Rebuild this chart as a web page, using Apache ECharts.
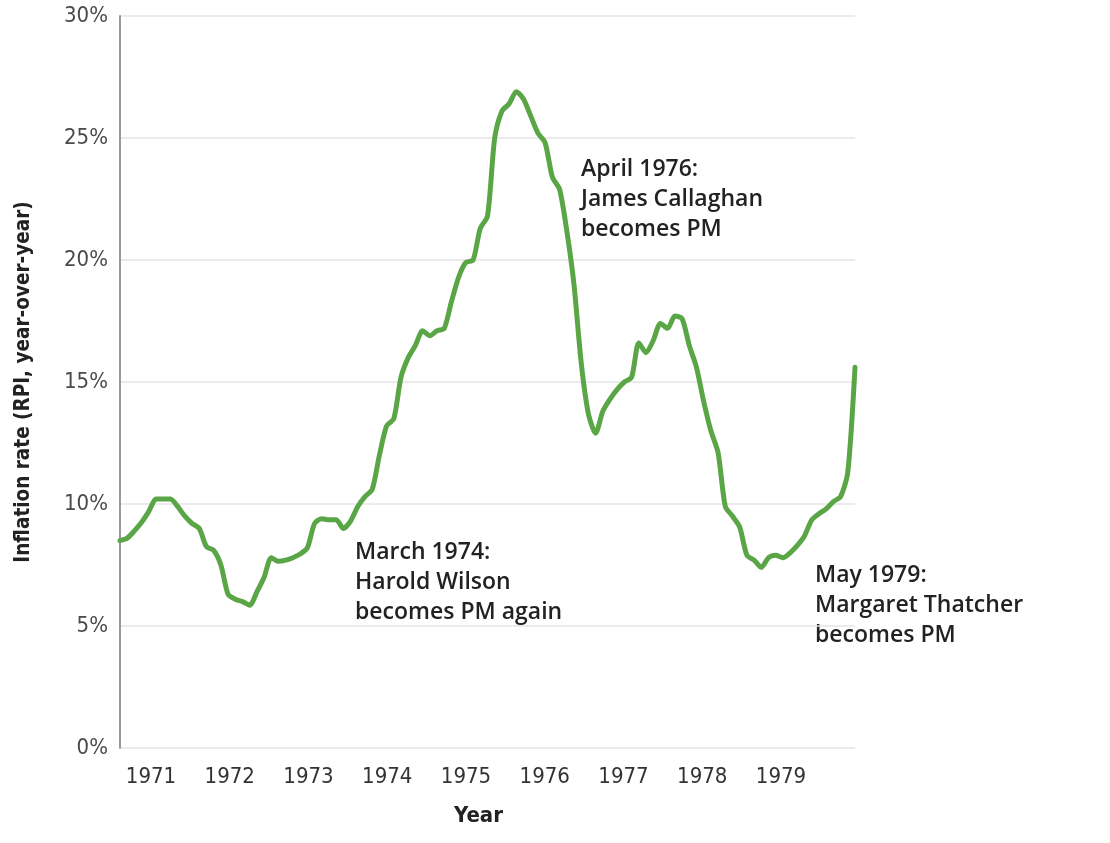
<!DOCTYPE html>
<html>
<head>
<meta charset="utf-8">
<script src="https://cdn.jsdelivr.net/npm/echarts@6/dist/echarts.min.js"></script>
<style>
    html, body {margin: 0; padding: 0; background: #fff;}
    #lineChart {width: 1110px; height: 843px;}
</style>
</head>
<body>
<div id="lineChart"></div>
<script>
    // UK RPI inflation, year-over-year %, monthly Jan 1971 - Jul 1979
    var rpi1971 = [8.5, 8.6, 8.9, 9.25, 9.7, 10.2, 10.2, 10.2, 9.9, 9.5, 9.2, 9.0];
    var rpi1972 = [8.25, 8.1, 7.5, 6.3, 6.1, 6.0, 5.85, 6.4, 7.0, 7.8, 7.65, 7.7];
    var rpi1973 = [7.8, 7.95, 8.2, 9.2, 9.4, 9.35, 9.35, 9.0, 9.3, 9.9, 10.3, 10.6];
    var rpi1974 = [12.0, 13.2, 13.5, 15.2, 16.0, 16.5, 17.1, 16.9, 17.1, 17.2, 18.3, 19.3];
    var rpi1975 = [19.9, 20.0, 21.3, 21.8, 25.0, 26.1, 26.4, 26.9, 26.6, 25.9, 25.2, 24.8];
    var rpi1976 = [23.4, 22.9, 21.2, 19.0, 15.8, 13.7, 12.9, 13.8, 14.3, 14.7, 15.0, 15.2];
    var rpi1977 = [16.6, 16.2, 16.7, 17.4, 17.2, 17.7, 17.6, 16.5, 15.6, 14.2, 13.0, 12.1];
    var rpi1978 = [9.9, 9.5, 9.05, 7.9, 7.7, 7.4, 7.8, 7.9, 7.8, 8.0, 8.3, 8.7];
    var rpi1979 = [9.35, 9.6, 9.8, 10.1, 10.3, 11.3, 15.6];

    var yearLabels = [1971, 1972, 1973, 1974, 1975, 1976, 1977, 1978, 1979];
    var yTicks = [0, 5, 10, 15, 20, 25, 30];

    var byYear = [rpi1971, rpi1972, rpi1973, rpi1974, rpi1975, rpi1976, rpi1977, rpi1978, rpi1979];
    var months = [];
    var values = [];
    byYear.forEach(function (arr, k) {
        arr.forEach(function (v, m) {
            months.push((1971 + k) + '-' + (m + 1));
            values.push(v);
        });
    });

    var narrow = "'DejaVu Sans Condensed', 'Open Sans', sans-serif";
    var noteFont = "'Open Sans', sans-serif";

    var lineChart = echarts.init(document.getElementById('lineChart'), null, {renderer: 'canvas'});
    var lineChartOption = {
        animation: false,
        backgroundColor: '#fff',
        grid: {
            left: 120,
            right: 255,
            top: 16,
            bottom: 95
        },
        xAxis: [
            {
                // year labels as drawn on the original
                type: 'value',
                min: 1970.606,
                max: 1979.94,
                name: 'Year',
                nameLocation: 'middle',
                nameGap: 57,
                nameTextStyle: {
                    color: '#222',
                    fontSize: 22,
                    fontWeight: 'bold',
                    fontFamily: narrow,
                    padding: [0, 18, 0, 0]
                },
                axisLine: {show: false},
                axisTick: {show: false},
                splitLine: {show: false},
                axisLabel: {
                    customValues: yearLabels,
                    margin: 18,
                    color: '#333',
                    fontSize: 22,
                    fontFamily: narrow,
                    formatter: function (v) { return String(Math.round(v)); }
                }
            },
            {
                // monthly data axis
                type: 'category',
                data: months,
                boundaryGap: false,
                show: false
            }
        ],
        yAxis: {
            type: 'value',
            min: yTicks[0],
            max: yTicks[yTicks.length - 1],
            interval: 5,
            name: 'Inflation rate (RPI, year-over-year)',
            nameLocation: 'middle',
            nameGap: 86,
            nameTextStyle: {
                color: '#222',
                fontSize: 20.5,
                fontWeight: 'bold',
                fontFamily: narrow
            },
            axisLine: {
                show: true,
                lineStyle: {color: '#9a9a9a', width: 2}
            },
            axisTick: {show: false},
            axisLabel: {
                margin: 12,
                color: '#4a4a4a',
                fontSize: 22,
                fontFamily: narrow,
                formatter: '{value}%'
            },
            splitLine: {
                lineStyle: {color: '#e4e4e4', width: 1.5}
            }
        },
        series: [
            {
                name: 'RPI',
                type: 'line',
                xAxisIndex: 1,
                data: values,
                smooth: 0.25,
                symbol: 'none',
                lineStyle: {
                    color: '#5aa646',
                    width: 5,
                    cap: 'round',
                    join: 'round'
                },
                z: 3
            }
        ],
        graphic: [
            {
                type: 'text',
                left: 355,
                top: 537,
                style: {
                    text: 'March 1974:\nHarold Wilson\nbecomes PM again',
                    fill: '#222',
                    font: '600 23px ' + noteFont,
                    lineHeight: 30
                }
            },
            {
                type: 'text',
                left: 581,
                top: 154,
                style: {
                    text: 'April 1976:\nJames Callaghan\nbecomes PM',
                    fill: '#222',
                    font: '600 23px ' + noteFont,
                    lineHeight: 30
                }
            },
            {
                type: 'text',
                left: 815,
                top: 560,
                style: {
                    text: 'May 1979:\nMargaret Thatcher\nbecomes PM',
                    fill: '#222',
                    font: '600 23px ' + noteFont,
                    lineHeight: 30
                }
            }
        ]
    };
    lineChart.setOption(lineChartOption);

    window.onresize = lineChart.resize;
</script>
</body>
</html>
